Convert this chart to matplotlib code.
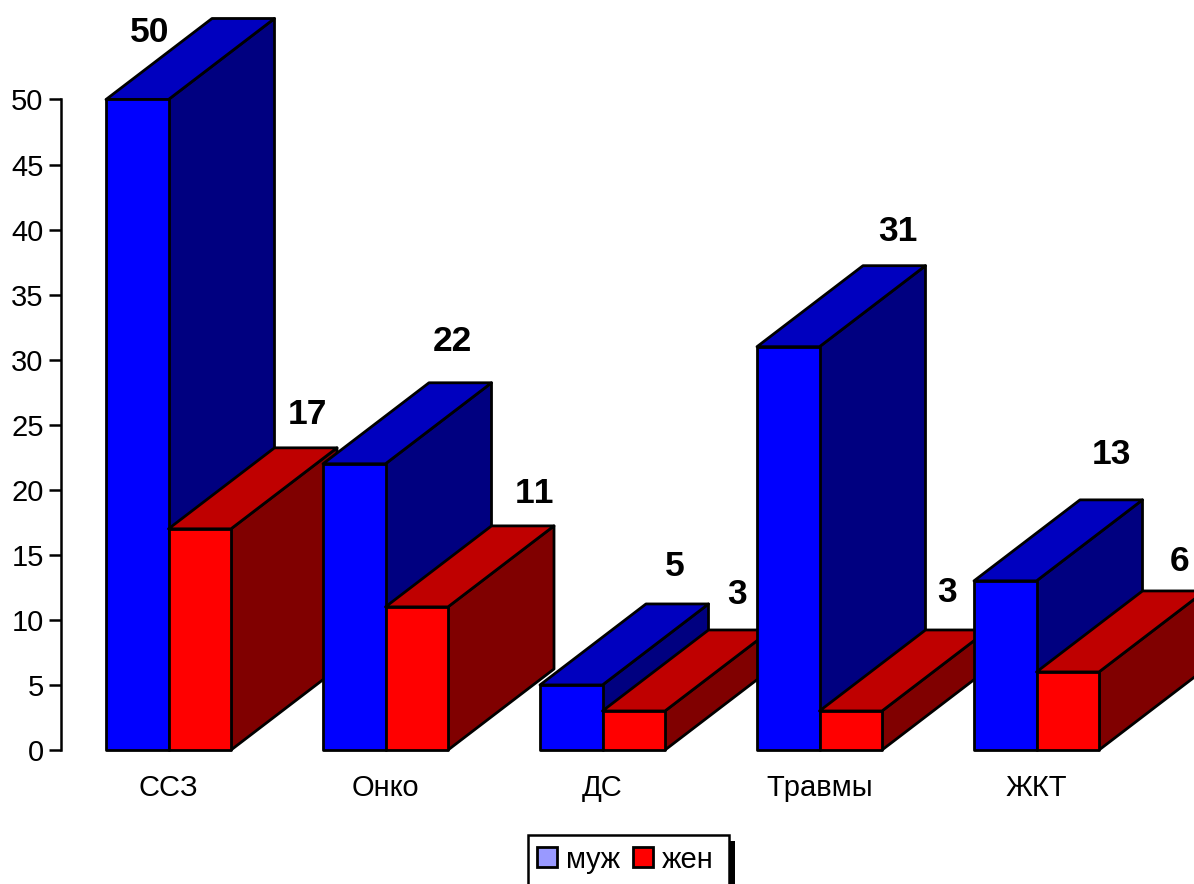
import matplotlib
matplotlib.use("Agg")
import matplotlib.pyplot as plt
from matplotlib.patches import Patch, Rectangle

plt.rcParams['font.family'] = ['Liberation Sans', 'DejaVu Sans']
plt.rcParams['text.kerning_factor'] = 6

categories = ['ССЗ', 'Онко', 'ДС', 'Травмы', 'ЖКТ']
male = [50, 22, 5, 31, 13]
female = [17, 11, 3, 3, 6]
series_names = ['муж', 'жен']
yticks = list(range(0, 55, 5))

# offsets of value labels from the front-face top centre, in pixels
male_off = [(12, 69), (98, 124), (103, 121), (110, 117), (106, 128)]
female_off = [(108, 116), (118, 115), (103, 119), (96, 121), (112, 113)]

W, H = 1194, 884
dpi = 100
fig = plt.figure(figsize=(W / dpi, H / dpi), dpi=dpi, facecolor='white')
ax_left, ax_top, ax_bot = 61, 99.5, 750
ax = fig.add_axes([ax_left / W, 1 - ax_bot / H, (W - ax_left) / W, (ax_bot - ax_top) / H])
ax.set_facecolor('none')

cat_px = 217.0
ax.set_xlim(-(168.5 - ax_left) / cat_px, (W - 168.5) / cat_px)
ax.set_ylim(0, 50)
bw = 62.5 / cat_px
dx = 106 / cat_px
dy = 81 / ((ax_bot - ax_top) / 50)

LW = 2.0
BLUE = ('#0000FF', '#0000BF', '#000080')
RED = ('#FF0000', '#BF0000', '#800000')


def bar3d(x0, v, cols, z):
    x1 = x0 + bw
    kw = dict(edgecolor='black', linewidth=LW, joinstyle='round', clip_on=False, zorder=z)
    ax.fill([x1, x1 + dx, x1 + dx, x1], [0, dy, v + dy, v], facecolor=cols[2], **kw)
    ax.fill([x0, x0 + dx, x1 + dx, x1], [v, v + dy, v + dy, v], facecolor=cols[1], **kw)
    ax.fill([x0, x1, x1, x0], [0, 0, v, v], facecolor=cols[0], **kw)


def label(x, v, off):
    ax.annotate(str(v), (x + bw / 2, v), xytext=(off[0] * 0.72, off[1] * 0.72 - 1.5),
                textcoords='offset points', ha='center', va='center',
                fontsize=25.5, fontweight='bold', color='black', zorder=100,
                annotation_clip=False)


for i in range(len(categories)):
    bar3d(i - bw, male[i], BLUE, 10 + i * 3)
    bar3d(i, female[i], RED, 11 + i * 3)
    label(i - bw, male[i], male_off[i])
    label(i, female[i], female_off[i])

for s in ('top', 'right', 'bottom'):
    ax.spines[s].set_visible(False)
ax.spines['left'].set_linewidth(1.8)
ax.spines['left'].set_color('black')
ax.set_yticks(yticks)
ax.tick_params(axis='y', length=9, width=1.8, pad=3.5, labelsize=21)
ax.set_xticks(range(len(categories)))
ax.set_xticklabels(categories)
ax.tick_params(axis='x', length=0, pad=17.5, labelsize=21)

# legend shadow and frame run off the bottom edge
fig.add_artist(Rectangle((729 / W, -0.01), 6 / W, 0.01 + 1 - 841 / H, transform=fig.transFigure,
                         facecolor='black', edgecolor='none', zorder=3))
fig.add_artist(Rectangle((528 / W, -0.01), 201 / W, 0.01 + 1 - 835 / H, transform=fig.transFigure,
                         facecolor='white', edgecolor='black', linewidth=1.8, zorder=3))
handles = [Patch(facecolor='#9999FF', edgecolor='black', linewidth=2),
           Patch(facecolor='#FF0000', edgecolor='black', linewidth=2)]
leg = fig.legend(handles, series_names, ncols=2, loc='upper left',
                 bbox_to_anchor=(537 / W, 1 - 845.5 / H), bbox_transform=fig.transFigure,
                 fontsize=21, frameon=False,
                 handlelength=0.69, handleheight=0.69, handletextpad=0.3, columnspacing=0.45,
                 borderpad=0, borderaxespad=0, labelspacing=0)
leg.set_zorder(4)

fig.savefig('out.png', dpi=dpi, facecolor='white')
